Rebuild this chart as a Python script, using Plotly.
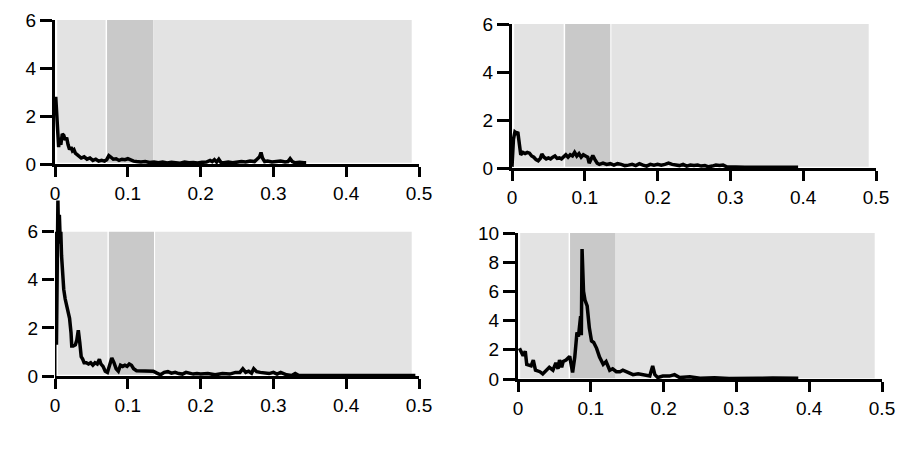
import plotly.graph_objects as go

# ---- data ----
x_a = [0.001,0.002,0.003,0.004,0.005,0.006,0.008,0.010,0.012,0.014,0.016,0.018,0.020,0.022,0.024,0.026,0.028,0.030,0.033,0.036,
       0.040,0.044,0.048,0.052,0.056,0.060,0.064,0.068,0.071,0.074,0.077,0.080,0.084,0.088,0.092,0.096,0.100,0.104,0.108,0.112,
       0.118,0.124,0.130,0.136,0.142,0.148,0.154,0.160,0.166,0.172,0.178,0.184,0.190,0.196,0.202,0.208,0.213,0.216,0.219,0.222,
       0.225,0.228,0.232,0.238,0.244,0.250,0.256,0.262,0.268,0.274,0.278,0.281,0.283,0.285,0.288,0.292,0.298,0.304,0.310,0.316,
       0.320,0.323,0.326,0.330,0.336,0.342,0.345]
y_a = [2.8,2.3,1.6,0.9,0.7,1.1,0.8,1.25,1.2,1.0,1.1,0.8,0.6,0.7,0.55,0.6,0.45,0.4,0.3,0.25,
       0.3,0.2,0.25,0.15,0.2,0.12,0.15,0.12,0.18,0.35,0.28,0.2,0.22,0.15,0.2,0.18,0.22,0.15,0.12,0.1,
       0.08,0.1,0.06,0.08,0.05,0.08,0.04,0.07,0.05,0.03,0.08,0.05,0.06,0.04,0.07,0.08,0.15,0.1,0.18,0.08,
       0.2,0.06,0.05,0.08,0.05,0.07,0.1,0.08,0.12,0.1,0.2,0.3,0.48,0.25,0.1,0.12,0.08,0.1,0.12,0.08,
       0.1,0.22,0.1,0.05,0.07,0.05,0.05]

x_b = [0.0,0.002,0.004,0.006,0.008,0.010,0.012,0.015,0.018,0.021,0.024,0.027,0.030,0.033,0.036,0.039,0.041,0.044,0.047,0.050,
       0.053,0.056,0.059,0.062,0.065,0.068,0.071,0.074,0.077,0.080,0.083,0.086,0.089,0.092,0.095,0.098,0.101,0.104,0.106,0.109,
       0.111,0.114,0.117,0.120,0.125,0.130,0.135,0.140,0.145,0.150,0.155,0.160,0.165,0.170,0.175,0.180,0.185,0.190,0.195,0.200,
       0.205,0.210,0.215,0.220,0.225,0.230,0.235,0.240,0.245,0.250,0.255,0.260,0.265,0.270,0.275,0.280,0.285,0.290,0.295,0.300,
       0.320,0.340,0.360,0.380,0.393]
y_b = [0.05,1.2,1.5,1.45,1.5,1.0,0.55,0.65,0.6,0.65,0.62,0.5,0.45,0.35,0.3,0.4,0.58,0.45,0.38,0.42,
       0.38,0.45,0.5,0.4,0.42,0.38,0.45,0.55,0.45,0.55,0.5,0.65,0.5,0.6,0.45,0.55,0.5,0.45,0.2,0.4,
       0.52,0.35,0.2,0.15,0.2,0.15,0.18,0.12,0.18,0.15,0.1,0.12,0.15,0.1,0.18,0.12,0.08,0.15,0.12,0.15,
       0.12,0.15,0.2,0.15,0.12,0.1,0.15,0.08,0.12,0.1,0.12,0.08,0.1,0.05,0.08,0.12,0.1,0.12,0.05,0.04,
       0.03,0.03,0.03,0.03,0.03]

x_c = [0.002,0.003,0.004,0.005,0.006,0.007,0.008,0.009,0.010,0.012,0.014,0.016,0.018,0.020,0.022,0.023,0.025,0.028,0.030,0.032,
       0.034,0.036,0.038,0.040,0.043,0.046,0.049,0.052,0.055,0.058,0.061,0.063,0.066,0.069,0.072,0.075,0.078,0.081,0.084,0.087,
       0.090,0.093,0.096,0.099,0.102,0.105,0.108,0.112,0.120,0.128,0.135,0.140,0.145,0.150,0.155,0.160,0.165,0.170,0.175,0.180,
       0.185,0.190,0.195,0.200,0.210,0.220,0.230,0.240,0.248,0.254,0.258,0.262,0.266,0.270,0.273,0.277,0.282,0.288,0.294,0.300,
       0.305,0.310,0.318,0.325,0.330,0.335,0.350,0.400,0.450,0.495]
y_c = [1.3,5.5,7.3,5.5,6.7,5.8,6.0,5.0,4.3,3.6,3.2,2.9,2.6,2.4,1.8,1.25,1.25,1.3,1.5,1.9,
       1.4,0.8,0.7,0.55,0.55,0.5,0.55,0.45,0.55,0.5,0.7,0.5,0.4,0.2,0.15,0.5,0.75,0.55,0.3,0.2,
       0.45,0.4,0.45,0.4,0.5,0.45,0.3,0.22,0.22,0.22,0.2,0.12,0.05,0.15,0.18,0.12,0.15,0.1,0.08,0.15,
       0.1,0.08,0.1,0.08,0.1,0.05,0.1,0.08,0.15,0.15,0.3,0.15,0.2,0.12,0.3,0.18,0.15,0.12,0.1,0.15,
       0.08,0.15,0.05,0.02,0.1,0.02,0.02,0.02,0.02,0.02]

x_d = [0.002,0.007,0.010,0.012,0.018,0.021,0.024,0.030,0.034,0.039,0.043,0.048,0.052,0.055,0.057,0.060,0.062,0.066,0.071,0.075,
       0.078,0.081,0.083,0.086,0.087,0.088,0.090,0.092,0.095,0.098,0.101,0.104,0.108,0.112,0.117,0.121,0.126,0.130,0.135,0.140,
       0.144,0.151,0.158,0.165,0.172,0.181,0.185,0.188,0.192,0.199,0.208,0.215,0.222,0.236,0.250,0.270,0.290,0.310,0.330,0.350,
       0.370,0.385]
y_d = [2.1,1.6,1.9,1.0,0.9,1.3,0.6,0.5,0.35,0.6,0.8,0.6,1.1,0.7,1.3,0.8,1.2,1.3,1.55,0.45,
       1.5,3.2,2.9,4.3,3.0,8.9,6.0,5.4,5.0,3.5,2.6,2.5,2.1,1.5,1.0,1.2,0.6,0.7,0.5,0.5,
       0.6,0.45,0.3,0.35,0.3,0.2,0.9,0.3,0.1,0.2,0.2,0.3,0.1,0.15,0.05,0.08,0.04,0.07,0.05,0.06,
       0.04,0.05]

band_start = [0.0715, 0.073, 0.074, 0.0715]
band_end = [0.135, 0.135, 0.136, 0.134]
y_tops = [6, 6, 6, 10]
x_ticks = [0, 0.1, 0.2, 0.3, 0.4, 0.5]
x_labels = ["0", "0.1", "0.2", "0.3", "0.4", "0.5"]
y_ticks_small = [0, 2, 4, 6]
y_ticks_big = [0, 2, 4, 6, 8, 10]

for xs, ys in [(x_a, y_a), (x_b, y_b), (x_c, y_c), (x_d, y_d)]:
    assert len(xs) == len(ys), (len(xs), len(ys))

# ---- layout ----
panels = [
    dict(xd=[55/900, 419/900], yd=[1-164/455, 1-20/455], yr=[0, 6], yt=y_ticks_small, xs=x_a, ys=y_a, left=0.003, gapR=False),
    dict(xd=[512/900, 876/900], yd=[1-168/455, 1-24/455], yr=[0, 6], yt=y_ticks_small, xs=x_b, ys=y_b, left=0.003, gapR=True),
    dict(xd=[55/900, 419/900], yd=[1-376/455, 1-198/455], yr=[0, 7.4], yt=y_ticks_small, xs=x_c, ys=y_c, left=0.004, gapR=True),
    dict(xd=[518/900, 882/900], yd=[1-379/455, 1-233/455], yr=[0, 10], yt=y_ticks_big, xs=x_d, ys=y_d, left=0.003, gapR=False),
]

FONT = dict(family="Liberation Sans, Arial, sans-serif", size=19, color="black")
LIGHT = "#e3e3e3"
DARK = "#c9c9c9"

fig = go.Figure()
shapes = []
layout = dict(width=900, height=455, margin=dict(l=0, r=0, t=0, b=0),
              paper_bgcolor="white", plot_bgcolor="white", showlegend=False, font=FONT)

for i, p in enumerate(panels):
    n = "" if i == 0 else str(i + 1)
    xr, yr = "x" + n, "y" + n
    fig.add_trace(go.Scatter(x=p["xs"], y=p["ys"], mode="lines",
                             line=dict(color="black", width=3.5),
                             xaxis=xr, yaxis=yr, hoverinfo="skip"))
    layout["xaxis" + n] = dict(domain=p["xd"], anchor=yr, range=[0, 0.5],
                               tickvals=x_ticks, ticktext=x_labels,
                               showgrid=False, zeroline=False, showline=True,
                               linecolor="black", linewidth=3,
                               ticks="outside", ticklen=10, tickwidth=3, tickcolor="black",
                               tickfont=FONT, fixedrange=True, automargin=False)
    layout["yaxis" + n] = dict(domain=p["yd"], anchor=xr, range=p["yr"],
                               tickvals=p["yt"], ticktext=[str(v) for v in p["yt"]],
                               showgrid=False, zeroline=False, showline=(i != 2),
                               linecolor="black", linewidth=3,
                               ticks="outside", ticklen=12, tickwidth=3, tickcolor="black",
                               tickfont=FONT, fixedrange=True, automargin=False)
    top = y_tops[i]
    bs, be = band_start[i], band_end[i]
    shapes.append(dict(type="rect", xref=xr, yref=yr, x0=p["left"], x1=bs - 0.002, y0=0.05, y1=top,
                       fillcolor=LIGHT, line=dict(width=0), layer="below"))
    shapes.append(dict(type="rect", xref=xr, yref=yr, x0=bs, x1=be, y0=0.05, y1=top,
                       fillcolor=DARK, line=dict(width=0), layer="below"))
    shapes.append(dict(type="rect", xref=xr, yref=yr, x0=be + (0.0015 if p["gapR"] else 0), x1=0.49,
                       y0=0.05, y1=top, fillcolor=LIGHT, line=dict(width=0), layer="below"))
    if i == 2:
        shapes.append(dict(type="line", xref=xr, yref=yr, x0=0, x1=0, y0=0, y1=6,
                           line=dict(color="black", width=3), layer="above"))

layout["shapes"] = shapes
fig.update_layout(**layout)
fig.write_html("out.html", post_script="document.body.style.margin='0';document.body.style.overflow='hidden';")
